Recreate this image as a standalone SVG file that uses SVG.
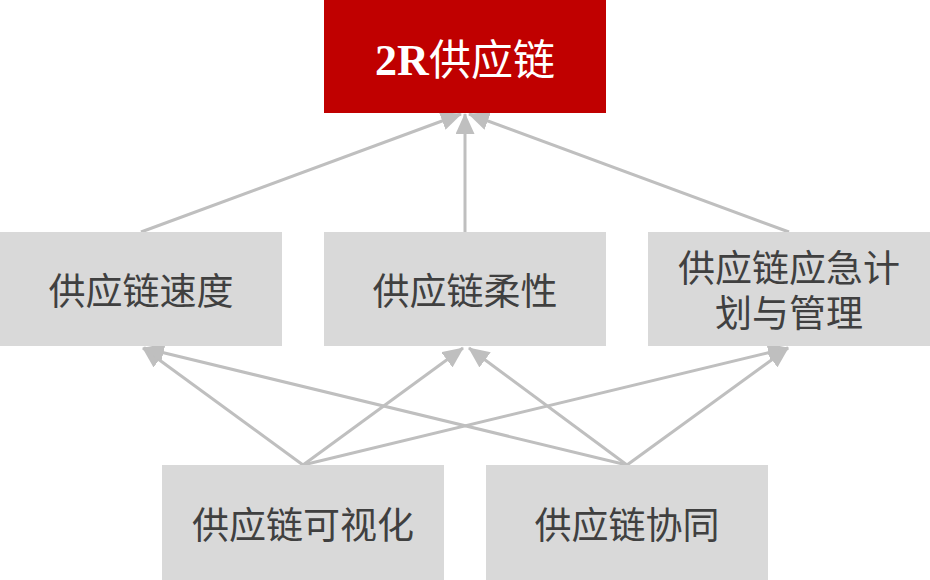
<svg xmlns="http://www.w3.org/2000/svg" width="930" height="580" viewBox="0 0 930 580">
<style>
.box{fill:#d9d9d9}
.top{fill:#c00000}
.lbl{font-family:"Noto Sans CJK SC","Noto Sans",sans-serif;font-size:37px;fill:#404040;text-anchor:middle}
.ttl{font-family:"Liberation Serif","Noto Sans CJK SC",serif;font-size:42px;fill:#ffffff;text-anchor:middle}
.ttl .r{font-weight:bold;font-size:44px}
.ttl .c{font-family:"Noto Sans CJK SC",sans-serif}
.con{stroke:#bfbfbf;stroke-width:3;fill:none;marker-end:url(#ah)}
</style>
<defs>
<marker id="ah" markerUnits="userSpaceOnUse" markerWidth="21" markerHeight="19" viewBox="0 0 21 19" refX="20" refY="9.5" orient="auto">
<path d="M0,0 L21,9.5 L0,19 Z" fill="#bfbfbf"/>
</marker>
</defs>
<g id="connectors">
<line class="con" x1="141" y1="232" x2="461" y2="114"/>
<line class="con" x1="465" y1="232" x2="465" y2="114"/>
<line class="con" x1="789" y1="232" x2="469" y2="114"/>
<line class="con" x1="303" y1="465" x2="143" y2="348"/>
<line class="con" x1="303" y1="465" x2="463" y2="348"/>
<line class="con" x1="303" y1="465" x2="788" y2="348"/>
<line class="con" x1="627" y1="465" x2="144" y2="348"/>
<line class="con" x1="627" y1="465" x2="469" y2="348"/>
<line class="con" x1="627" y1="465" x2="788" y2="348"/>
</g>
<g id="n2r">
<rect class="top" x="324" y="0" width="282" height="113"/>
<text class="ttl" x="465" y="75"><tspan class="r">2R</tspan><tspan class="c">供应链</tspan></text>
</g>
<g id="speed">
<rect class="box" x="0" y="232" width="282" height="114"/>
<text class="lbl" x="141" y="305">供应链速度</text>
</g>
<g id="flex">
<rect class="box" x="324" y="232" width="282" height="114"/>
<text class="lbl" x="465" y="305">供应链柔性</text>
</g>
<g id="plan">
<rect class="box" x="648" y="232" width="282" height="114"/>
<text class="lbl" x="789" y="282">供应链应急计</text>
<text class="lbl" x="789" y="327">划与管理</text>
</g>
<g id="vis">
<rect class="box" x="162" y="465" width="282" height="115"/>
<text class="lbl" x="303" y="539">供应链可视化</text>
</g>
<g id="collab">
<rect class="box" x="486" y="465" width="282" height="115"/>
<text class="lbl" x="627" y="539">供应链协同</text>
</g>
</svg>
